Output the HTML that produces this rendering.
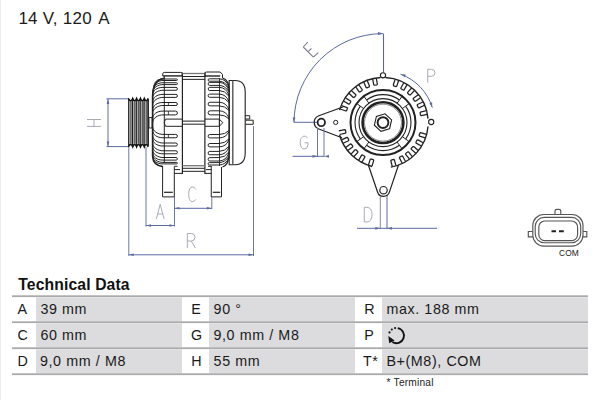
<!DOCTYPE html>
<html><head><meta charset="utf-8"><style>
html,body{margin:0;padding:0;background:#fff;}
body{width:600px;height:400px;overflow:hidden;position:relative;}
svg{position:absolute;left:0;top:0;}
text{font-family:"Liberation Sans",sans-serif;}
</style></head><body>
<svg width="600" height="400" viewBox="0 0 600 400">
<rect x="0" y="0" width="600" height="400" fill="#fff"/>
<rect x="0" y="0" width="1" height="400" fill="#ececec"/>
<text x="18.4" y="23.7" font-size="17" fill="#1a1a1a" letter-spacing="0.25">14 V, 120 <tspan dx="2.4">A</tspan></text>
<g stroke="#5b6aa0" stroke-width="1" fill="none"><line x1="106.5" y1="98.8" x2="129" y2="98.8"/><line x1="106.5" y1="146.6" x2="129" y2="146.6"/><line x1="108" y1="99" x2="108" y2="146.5"/></g>
<path d="M108,99 l-1.3,5 h2.6z M108,146.5 l-1.3,-5 h2.6z" fill="#5b6aa0"/>
<path d="M87,119.5 H101 M87,126.4 H101 M94,119.5 V126.4" stroke="#a0a2ae" stroke-width="0.9" fill="none"/>
<rect x="128.3" y="100" width="20.6" height="45" fill="#a8a8a8"/><line x1="128.90" y1="99" x2="128.90" y2="146" stroke="#1a1a1a" stroke-width="1.5"/><line x1="132.75" y1="99" x2="132.75" y2="146" stroke="#1a1a1a" stroke-width="1.5"/><line x1="136.60" y1="99" x2="136.60" y2="146" stroke="#1a1a1a" stroke-width="1.5"/><line x1="140.45" y1="99" x2="140.45" y2="146" stroke="#1a1a1a" stroke-width="1.5"/><line x1="144.30" y1="99" x2="144.30" y2="146" stroke="#1a1a1a" stroke-width="1.5"/><line x1="148.15" y1="99" x2="148.15" y2="146" stroke="#1a1a1a" stroke-width="1.5"/><line x1="130.82" y1="101.5" x2="130.82" y2="143.5" stroke="#555" stroke-width="1.0"/><line x1="129.62" y1="101" x2="129.62" y2="144" stroke="#d0d0d0" stroke-width="0.7"/><line x1="134.68" y1="101.5" x2="134.68" y2="143.5" stroke="#555" stroke-width="1.0"/><line x1="133.48" y1="101" x2="133.48" y2="144" stroke="#d0d0d0" stroke-width="0.7"/><line x1="138.52" y1="101.5" x2="138.52" y2="143.5" stroke="#555" stroke-width="1.0"/><line x1="137.32" y1="101" x2="137.32" y2="144" stroke="#d0d0d0" stroke-width="0.7"/><line x1="142.38" y1="101.5" x2="142.38" y2="143.5" stroke="#555" stroke-width="1.0"/><line x1="141.18" y1="101" x2="141.18" y2="144" stroke="#d0d0d0" stroke-width="0.7"/><line x1="146.23" y1="101.5" x2="146.23" y2="143.5" stroke="#555" stroke-width="1.0"/><line x1="145.03" y1="101" x2="145.03" y2="144" stroke="#d0d0d0" stroke-width="0.7"/><path d="M128.3,98.3 Q130.82,103.2 132.75,98.3 Q134.68,103.2 136.60,98.3 Q138.52,103.2 140.45,98.3 Q142.38,103.2 144.30,98.3 Q146.23,103.2 148.15,98.3" stroke="#111" stroke-width="1.4" fill="none"/><path d="M128.3,147 Q130.82,142.1 132.75,147 Q134.68,142.1 136.60,147 Q138.52,142.1 140.45,147 Q142.38,142.1 144.30,147 Q146.23,142.1 148.15,147" stroke="#111" stroke-width="1.4" fill="none"/>
<rect x="149" y="117.5" width="3" height="10.5" fill="#fff" stroke="#222" stroke-width="0.9"/>
<g><path d="M162.8,76 V73.8 Q162.8,72.4 164.3,72.4 H180.8 Q182.2,72.4 182.2,73.8 V76" stroke="#222" stroke-width="1" fill="none"/><line x1="162.8" y1="75.9" x2="182.2" y2="75.9" stroke="#222" stroke-width="1.4"/><line x1="164.3" y1="76" x2="164.3" y2="163" stroke="#222" stroke-width="1" fill="none"/><path d="M164,78.2 Q153,80 152.6,96 V156 Q153,165.5 162.8,166.6" stroke="#222" stroke-width="1.6" fill="none"/><path d="M154.02,87.00 C154.02,82.00 157.00,79.00 163,79.00 H176.65 A0.75,0.75 0 0 1 176.65,80.50 H163 C158.00,80.50 153.56,83.50 153.56,88.50" stroke="#222" stroke-width="1" fill="none"/><path d="M153.09,90.75 C153.09,85.75 157.00,82.75 163,82.75 H176.48 A0.92,0.92 0 0 1 176.48,84.60 H163 C158.00,84.60 152.82,87.60 152.82,92.60" stroke="#222" stroke-width="1" fill="none"/><path d="M152.62,95.40 C152.62,90.40 157.00,87.40 163,87.40 H175.98 A1.42,1.42 0 0 1 175.98,90.25 H163 C158.00,90.25 152.60,93.25 152.60,98.25" stroke="#222" stroke-width="1" fill="none"/><path d="M152.60,102.40 C152.60,97.40 157.00,94.40 163,94.40 H175.90 A1.50,1.50 0 0 1 175.90,97.40 H163 C158.00,97.40 152.60,100.40 152.60,105.40" stroke="#222" stroke-width="1" fill="none"/><path d="M152.60,110.50 C152.60,105.50 157.00,102.50 163,102.50 H175.90 A1.50,1.50 0 0 1 175.90,105.50 H163 C158.00,105.50 152.60,108.50 152.60,113.50" stroke="#222" stroke-width="1" fill="none"/><path d="M152.60,119.10 C152.60,114.10 157.00,111.10 163,111.10 H175.50 A1.90,1.90 0 0 1 175.50,114.90 H163 C158.00,114.90 152.60,117.90 152.60,122.90" stroke="#222" stroke-width="1" fill="none"/><path d="M152.60,126.40 C152.60,131.40 158.00,134.40 163,134.40 H175.73 A1.67,1.67 0 0 1 175.73,137.75 H163 C157.00,137.75 152.60,134.75 152.60,129.75" stroke="#222" stroke-width="1" fill="none"/><path d="M152.60,135.00 C152.60,140.00 158.00,143.00 163,143.00 H175.90 A1.50,1.50 0 0 1 175.90,146.00 H163 C157.00,146.00 152.60,143.00 152.60,138.00" stroke="#222" stroke-width="1" fill="none"/><path d="M152.60,142.80 C152.60,147.80 158.00,150.80 163,150.80 H175.90 A1.50,1.50 0 0 1 175.90,153.80 H163 C157.00,153.80 152.60,150.80 152.60,145.80" stroke="#222" stroke-width="1" fill="none"/><path d="M152.60,149.50 C152.60,154.50 158.00,157.50 163,157.50 H176.10 A1.30,1.30 0 0 1 176.10,160.10 H163 C157.00,160.10 152.60,157.10 152.60,152.10" stroke="#222" stroke-width="1" fill="none"/><path d="M152.60,154.40 C152.60,159.40 158.00,162.40 163,162.40 H176.65 A0.75,0.75 0 0 1 176.65,163.90 H163 C157.00,163.90 152.60,160.90 152.60,155.90" stroke="#222" stroke-width="1" fill="none"/><path d="M168.4,102.5 V105.5 M168.4,111.1 V114.9 M168.4,134.4 V137.75" stroke="#222" stroke-width="0.8"/><line x1="182.4" y1="72.4" x2="182.4" y2="173.9" stroke="#222" stroke-width="1.2"/><line x1="204.9" y1="72.4" x2="204.9" y2="173.9" stroke="#222" stroke-width="1.2"/><path d="M182.4,73.5 H204.9" stroke="#777" stroke-width="1.3"/><path d="M182.4,76.5 H204.9 M182.4,79.35 H204.9 M182.4,168.3 H204.9 M182.4,171.3 H204.9" stroke="#222" stroke-width="1" fill="none"/><path d="M182.4,165.7 H204.9" stroke="#777" stroke-width="1.3"/><path d="M182.4,119.1 H165.5 Q163,122.7 165.5,126.3 H182.4 M182.4,121.1 H204.9 M182.4,124.2 H204.9 M204.9,119.1 H219.3 L222.8,122.7 L219.3,126.3 H204.9 M219.3,119.1 V126.3" stroke="#222" stroke-width="1" fill="none"/><path d="M205,76.5 V73.5 Q205,72 206.5,72 H220.2 L222.5,74.5 V78" stroke="#222" stroke-width="1" fill="none"/><line x1="205" y1="76" x2="220.2" y2="76" stroke="#222" stroke-width="1.4"/><line x1="219.5" y1="78" x2="219.5" y2="166" stroke="#222" stroke-width="0.9"/><path d="M222.5,78 Q229.2,80 229.2,90 V152 Q229.2,165 222.5,167" stroke="#222" stroke-width="1.3" fill="none"/><path d="M229,87.20 Q226,78.80 219,78.80 H209.30 A1.20,1.20 0 0 0 209.30,81.20 H219 Q225,81.20 229,88.20" stroke="#222" stroke-width="1" fill="none"/><path d="M229,90.80 Q226,82.40 219,82.40 H209.60 A1.50,1.50 0 0 0 209.60,85.40 H219 Q225,85.40 229,91.80" stroke="#222" stroke-width="1" fill="none"/><path d="M229,95.30 Q226,87.35 219,87.35 H209.68 A1.58,1.58 0 0 0 209.68,90.50 H219 Q225,90.50 229,96.30" stroke="#222" stroke-width="1" fill="none"/><path d="M229,101.50 Q226,94.10 219,94.10 H209.70 A1.60,1.60 0 0 0 209.70,97.30 H219 Q225,97.30 229,102.50" stroke="#222" stroke-width="1" fill="none"/><path d="M229,109.45 Q226,102.25 219,102.25 H209.90 A1.80,1.80 0 0 0 209.90,105.85 H219 Q225,105.85 229,110.45" stroke="#222" stroke-width="1" fill="none"/><path d="M229,117.85 Q226,110.80 219,110.80 H210.12 A2.02,2.02 0 0 0 210.12,114.85 H219 Q225,114.85 229,118.85" stroke="#222" stroke-width="1" fill="none"/><path d="M229,130.50 Q225,134.50 219,134.50 H209.80 A1.70,1.70 0 0 0 209.80,137.90 H219 Q226,137.90 229,131.50" stroke="#222" stroke-width="1" fill="none"/><path d="M229,138.90 Q225,143.50 219,143.50 H209.80 A1.70,1.70 0 0 0 209.80,146.90 H219 Q226,146.90 229,139.90" stroke="#222" stroke-width="1" fill="none"/><path d="M229,146.20 Q225,151.40 219,151.40 H209.77 A1.67,1.67 0 0 0 209.77,154.75 H219 Q226,154.75 229,147.20" stroke="#222" stroke-width="1" fill="none"/><path d="M229,151.80 Q225,157.60 219,157.60 H209.80 A1.70,1.70 0 0 0 209.80,161.00 H219 Q226,161.00 229,152.80" stroke="#222" stroke-width="1" fill="none"/><path d="M229,156.20 Q225,162.60 219,162.60 H209.30 A1.20,1.20 0 0 0 209.30,165.00 H219 Q226,165.00 229,157.20" stroke="#222" stroke-width="1" fill="none"/><path d="M229.2,80.5 H235 Q245.2,80.5 245.2,92 V153 Q245.2,164.7 235,164.7 H229.2 Z" stroke="#222" stroke-width="1.1" fill="none"/><line x1="232.8" y1="80.5" x2="232.8" y2="164.7" stroke="#555" stroke-width="1.4"/><path d="M245.2,115.7 H249.7 V119 H245.2 M245.5,120.2 H253.2 V124.3 H245.2" stroke="#222" stroke-width="1" fill="none"/><path d="M162.6,166 V196.9 H174.3 V166.5" stroke="#222" stroke-width="1" fill="none"/><line x1="164" y1="192.3" x2="172.8" y2="192.3" stroke="#222" stroke-width="1.2"/><path d="M174.3,166.3 H177.5 M174.3,169.6 H180 M174.3,173.4 H182.4" stroke="#222" stroke-width="1" fill="none"/><path d="M211.25,166 V196.9 H221.5 V167" stroke="#222" stroke-width="1" fill="none"/><line x1="212.8" y1="192.3" x2="220.2" y2="192.3" stroke="#222" stroke-width="1.2"/><path d="M208,166.3 H211.25 M206,169.6 H211.25 M204.9,173.4 H211.25" stroke="#222" stroke-width="1" fill="none"/></g>
<path d="M128.8,147 V256 M146,147 V226.5 M174.5,197 V226.5 M211.8,197 V209 M253.5,126 V256" stroke="#6b78a2" stroke-width="1" fill="none"/>
<path d="M146,225.5 H174.5 M174.5,208.3 H211.8 M128.8,254.8 H253.5" stroke="#5b6aa0" stroke-width="1" fill="none"/>
<path d="M146.00,225.50 l5.00,-1.3 v2.6z M174.50,225.50 l-5.00,-1.3 v2.6z M174.50,208.30 l5.00,-1.3 v2.6z M211.80,208.30 l-5.00,-1.3 v2.6z M128.80,254.80 l5.00,-1.3 v2.6z M253.50,254.80 l-5.00,-1.3 v2.6z " fill="#5b6aa0"/>
<path d="M156.3,219 L160.2,204.3 L164.1,219 M157.6,214 H162.8" stroke="#a0a2ae" stroke-width="0.9" fill="none"/>
<path d="M195.8,189.2 Q194.2,187 192.3,187 Q188.7,187.4 188.7,194.3 Q188.7,201.4 192.3,201.6 Q194.4,201.6 195.8,199.4" stroke="#a0a2ae" stroke-width="0.9" fill="none"/>
<path d="M187.3,248 V233.5 H191.5 Q195,233.8 195,237.2 Q195,240.8 191.5,241 H187.3 M191.3,241 L195.3,248" stroke="#a0a2ae" stroke-width="0.9" fill="none"/>
<g><path d="M383.0,33.6 A89,89 0 0 0 294.00,122.6" stroke="#5b6aa0" stroke-width="1" fill="none"/><path d="M383.0,33.6 l-5,-1.5 v3z M294.00,122.6 l-1.4,-5 h2.8z" fill="#5b6aa0"/><path d="M383.5,33.6 V72.5" stroke="#5b6aa0" stroke-width="1.1"/><path d="M294,122.3 H318" stroke="#5b6aa0" stroke-width="1"/><path d="M303.25,47 L313.4,57.1 M303.25,47 L307.75,42.1 M308.5,51.1 L311.5,48.5 M313.4,57.1 L318.25,52.6" stroke="#7d7f8c" stroke-width="1.1" fill="none"/><path d="M400.61,74.21 A51.5,51.5 0 0 1 432.25,107.54" stroke="#5b6aa0" stroke-width="1" fill="none"/><path d="M427.7,69.3 V82.7 M427.7,69.3 H431.3 Q435,69.5 435,72.8 Q435,76.3 431.3,76.3 H427.7" stroke="#a0a2ae" stroke-width="0.9" fill="none"/><path d="M400.61,74.21 L405.79,74.60 L404.83,77.23z M432.25,107.54 L429.45,103.17 L432.13,102.35z " fill="#5b6aa0"/><path d="M380.63,77.46 A45.2,45.2 0 0 0 339.55,110.14" stroke="#222" stroke-width="1.4" fill="none"/><path d="M428.03,118.66 A45.2,45.2 0 0 0 385.37,77.46" stroke="#222" stroke-width="1.4" fill="none"/><path d="M390.85,167.11 A45.2,45.2 0 0 0 428.03,126.54" stroke="#222" stroke-width="1.4" fill="none"/><path d="M339.55,135.06 A45.2,45.2 0 0 0 372.07,166.46" stroke="#222" stroke-width="1.4" fill="none"/><path d="M372.62,78.88 L373.76,84.77 L374.46,85.24 L376.92,84.77 L377.39,84.06 L376.25,78.17" stroke="#222" stroke-width="1.25" fill="none" stroke-linejoin="round"/><path d="M363.75,81.99 L366.10,87.52 L366.88,87.83 L369.19,86.86 L369.50,86.07 L367.16,80.55" stroke="#222" stroke-width="1.25" fill="none" stroke-linejoin="round"/><path d="M355.73,86.88 L359.17,91.80 L360.01,91.94 L362.06,90.51 L362.20,89.67 L358.76,84.76" stroke="#222" stroke-width="1.25" fill="none" stroke-linejoin="round"/><path d="M348.90,93.33 L353.29,97.42 L354.14,97.39 L355.84,95.57 L355.81,94.72 L351.42,90.63" stroke="#222" stroke-width="1.25" fill="none" stroke-linejoin="round"/><path d="M343.56,101.06 L348.70,104.15 L349.53,103.95 L350.81,101.80 L350.61,100.98 L345.47,97.89" stroke="#222" stroke-width="1.25" fill="none" stroke-linejoin="round"/><path d="M340.18,108.98 L345.81,111.03 L346.58,110.68 L347.44,108.33 L347.08,107.56 L341.44,105.50" stroke="#222" stroke-width="1.25" fill="none" stroke-linejoin="round"/><path d="M395.12,79.33 L393.26,85.03 L393.65,85.79 L396.02,86.56 L396.78,86.18 L398.63,80.47" stroke="#222" stroke-width="1.25" fill="none" stroke-linejoin="round"/><path d="M403.85,82.79 L400.85,87.99 L401.07,88.81 L403.23,90.06 L404.05,89.84 L407.05,84.64" stroke="#222" stroke-width="1.25" fill="none" stroke-linejoin="round"/><path d="M411.67,87.99 L407.65,92.45 L407.70,93.30 L409.56,94.97 L410.40,94.93 L414.42,90.47" stroke="#222" stroke-width="1.25" fill="none" stroke-linejoin="round"/><path d="M418.24,94.71 L413.38,98.24 L413.25,99.08 L414.72,101.10 L415.56,101.23 L420.41,97.71" stroke="#222" stroke-width="1.25" fill="none" stroke-linejoin="round"/><path d="M422.91,101.95 L417.47,104.48 L417.18,105.28 L418.24,107.55 L419.04,107.84 L424.48,105.30" stroke="#222" stroke-width="1.25" fill="none" stroke-linejoin="round"/><path d="M426.33,110.70 L420.49,112.05 L420.04,112.77 L420.60,115.20 L421.32,115.65 L427.17,114.30" stroke="#222" stroke-width="1.25" fill="none" stroke-linejoin="round"/><path d="M426.36,134.41 L420.64,132.60 L419.89,132.99 L419.13,135.37 L419.52,136.13 L425.24,137.94" stroke="#222" stroke-width="1.25" fill="none" stroke-linejoin="round"/><path d="M423.17,142.75 L417.92,139.84 L417.10,140.07 L415.89,142.26 L416.13,143.08 L421.37,145.99" stroke="#222" stroke-width="1.25" fill="none" stroke-linejoin="round"/><path d="M418.25,150.48 L413.70,146.56 L412.85,146.63 L411.22,148.52 L411.29,149.37 L415.83,153.28" stroke="#222" stroke-width="1.25" fill="none" stroke-linejoin="round"/><path d="M412.28,156.69 L408.56,151.98 L407.72,151.88 L405.76,153.43 L405.66,154.27 L409.38,158.98" stroke="#222" stroke-width="1.25" fill="none" stroke-linejoin="round"/><path d="M405.51,161.49 L402.72,156.18 L401.91,155.93 L399.70,157.09 L399.44,157.90 L402.23,163.21" stroke="#222" stroke-width="1.25" fill="none" stroke-linejoin="round"/><path d="M395.88,165.65 L394.40,159.84 L393.67,159.40 L391.25,160.02 L390.82,160.75 L392.30,166.57" stroke="#222" stroke-width="1.25" fill="none" stroke-linejoin="round"/><path d="M339.67,134.50 L345.51,133.15 L345.96,132.43 L345.40,130.00 L344.68,129.55 L338.83,130.90" stroke="#222" stroke-width="1.25" fill="none" stroke-linejoin="round"/><path d="M343.09,143.25 L348.53,140.72 L348.82,139.92 L347.76,137.65 L346.96,137.36 L341.52,139.90" stroke="#222" stroke-width="1.25" fill="none" stroke-linejoin="round"/><path d="M347.76,150.49 L352.62,146.96 L352.75,146.12 L351.28,144.10 L350.44,143.97 L345.59,147.49" stroke="#222" stroke-width="1.25" fill="none" stroke-linejoin="round"/><path d="M353.73,156.70 L357.82,152.31 L357.79,151.46 L355.97,149.76 L355.12,149.79 L351.03,154.18" stroke="#222" stroke-width="1.25" fill="none" stroke-linejoin="round"/><path d="M361.81,162.23 L364.85,157.06 L364.64,156.23 L362.48,154.97 L361.66,155.18 L358.62,160.35" stroke="#222" stroke-width="1.25" fill="none" stroke-linejoin="round"/><path d="M372.02,166.18 L373.73,160.42 L373.32,159.68 L370.92,158.97 L370.18,159.37 L368.47,165.13" stroke="#222" stroke-width="1.25" fill="none" stroke-linejoin="round"/><circle cx="383" cy="75.3" r="2.6" fill="#fff" stroke="#222" stroke-width="1.1"/><circle cx="431.2" cy="122" r="2.6" fill="#fff" stroke="#222" stroke-width="1.1"/><path d="M343.5,106.7 L318.86,115.73 A7.1,7.1 0 0 0 318.81,129.05 L342,137.75" stroke="#222" stroke-width="1.2" fill="none"/><circle cx="321.3" cy="122.4" r="3.7" fill="none" stroke="#222" stroke-width="1.8"/><circle cx="335.7" cy="122.4" r="2.1" fill="none" stroke="#222" stroke-width="1"/><path d="M368.5,165.5 L377.63,192.21 A6.2,6.2 0 0 0 389.38,192.17 L398.5,165" stroke="#222" stroke-width="1.2" fill="none"/><circle cx="383.5" cy="190.2" r="3.7" fill="none" stroke="#222" stroke-width="1.2"/><circle cx="383.0" cy="122.6" r="32.5" stroke="#222" stroke-width="2" fill="none"/><path d="M399.46,99.95 A28.0,28.0 0 0 0 366.54,99.95" stroke="#222" stroke-width="1.1" fill="none"/><path d="M360.35,106.14 A28.0,28.0 0 0 0 360.35,139.06" stroke="#222" stroke-width="1.1" fill="none"/><path d="M366.54,145.25 A28.0,28.0 0 0 0 399.46,145.25" stroke="#222" stroke-width="1.1" fill="none"/><path d="M405.65,139.06 A28.0,28.0 0 0 0 405.65,106.14" stroke="#222" stroke-width="1.1" fill="none"/><circle cx="383.0" cy="122.6" r="24.0" stroke="#222" stroke-width="1.1" fill="none"/><circle cx="383.0" cy="122.6" r="20.4" stroke="#222" stroke-width="2.6" fill="none"/><circle cx="383.0" cy="122.6" r="18.5" stroke="#888" stroke-width="1.0" fill="none"/><line x1="402.42" y1="108.49" x2="409.29" y2="103.50" stroke="#222" stroke-width="1"/><line x1="397.11" y1="103.18" x2="402.10" y2="96.31" stroke="#222" stroke-width="1"/><line x1="368.89" y1="103.18" x2="363.90" y2="96.31" stroke="#222" stroke-width="1"/><line x1="363.58" y1="108.49" x2="356.71" y2="103.50" stroke="#222" stroke-width="1"/><line x1="363.58" y1="136.71" x2="356.71" y2="141.70" stroke="#222" stroke-width="1"/><line x1="368.89" y1="142.02" x2="363.90" y2="148.89" stroke="#222" stroke-width="1"/><line x1="397.11" y1="142.02" x2="402.10" y2="148.89" stroke="#222" stroke-width="1"/><line x1="402.42" y1="136.71" x2="409.29" y2="141.70" stroke="#222" stroke-width="1"/><polygon points="389.58,128.74 380.98,131.37 374.39,125.23 376.42,116.46 385.02,113.83 391.61,119.97" fill="none" stroke="#222" stroke-width="1.1"/><circle cx="383.0" cy="122.6" r="5.4" stroke="#222" stroke-width="1.9" fill="none"/><path d="M317.5,128 V157 M324,128 V157" stroke="#6b78a2" stroke-width="1" fill="none"/><path d="M292.5,156.3 H324" stroke="#5b6aa0" stroke-width="1"/><path d="M317.50,156.30 L312.50,157.70 L312.50,154.90z M324.00,156.30 L329.00,154.90 L329.00,157.70z " fill="#5b6aa0"/><path d="M307.8,138 Q305.5,135.5 303.2,136.2 Q300.2,137.8 300.2,142.3 Q300.4,148.8 304.2,149 Q307.8,148.8 308,145 V142.8 H304.5" stroke="#a0a2ae" stroke-width="0.9" fill="none"/><path d="M380.3,196 V229" stroke="#8a8a9a" stroke-width="1"/><path d="M387,196 V229" stroke="#5b6aa0" stroke-width="1"/><path d="M357,228.3 H437" stroke="#5b6aa0" stroke-width="1"/><path d="M380.30,228.30 L375.30,229.70 L375.30,226.90z M387.00,228.30 L392.00,226.90 L392.00,229.70z " fill="#5b6aa0"/><path d="M364.3,207.3 V222 H366.5 Q372,222 372,214.6 Q372,207.3 366.5,207.3 Z" stroke="#a0a2ae" stroke-width="0.9" fill="none"/></g>
<g><path d="M532.8,231.5 H528.3 V236.8 H532.8 M583,231.5 H586.8 V236.8 H583 M555,214.5 V211.2 Q555,209.3 557,209.3 H558.8 Q560.8,209.3 560.8,211.2 V214.5" stroke="#555" stroke-width="1.15" fill="none"/><rect x="532.8" y="214.5" width="50.2" height="31.6" rx="11" stroke="#555" stroke-width="1.15" fill="none"/><rect x="535.2" y="217.4" width="45.5" height="25.4" rx="9" stroke="#555" stroke-width="1.15" fill="none"/><rect x="538.8" y="221" width="38.8" height="19.6" rx="6" stroke="#555" stroke-width="1.15" fill="none"/><path d="M551.5,231.3 H556 M559,231.3 H563.8" stroke="#222" stroke-width="2"/></g>
<text x="559" y="256" font-size="8.4" fill="#222" letter-spacing="0.1">COM</text>
<!-- table -->
<text x="18.3" y="289.5" font-size="15.7" font-weight="bold" fill="#111" letter-spacing="0.13">Technical Data</text>
<g fill="#dcdcde">
<rect x="36" y="298" width="146" height="23.3"/><rect x="209" y="298" width="146" height="23.3"/><rect x="382" y="298" width="206" height="23.3"/>
<rect x="36" y="324" width="146" height="23.3"/><rect x="209" y="324" width="146" height="23.3"/><rect x="382" y="324" width="206" height="23.3"/>
<rect x="36" y="350" width="146" height="23.3"/><rect x="209" y="350" width="146" height="23.3"/><rect x="382" y="350" width="206" height="23.3"/>
</g>
<g fill="#ebebec">
<rect x="36" y="297" width="146" height="1"/><rect x="209" y="297" width="146" height="1"/><rect x="382" y="297" width="206" height="1"/>
<rect x="36" y="323" width="146" height="1"/><rect x="209" y="323" width="146" height="1"/><rect x="382" y="323" width="206" height="1"/>
<rect x="36" y="349" width="146" height="1"/><rect x="209" y="349" width="146" height="1"/><rect x="382" y="349" width="206" height="1"/>
</g>
<g fill="#aaaaaa">
<rect x="12" y="295.3" width="576" height="1.8"/>
<rect x="12" y="321.3" width="576" height="1.8"/>
<rect x="12" y="347.3" width="576" height="1.8"/>
<rect x="12" y="373.3" width="576" height="1.8"/>
</g>
<g font-size="14.3" fill="#1a1a1a" letter-spacing="0.6">
<text x="17.5" y="314.2">A</text><text x="40.4" y="314.2">39 mm</text>
<text x="191.2" y="314.2">E</text><text x="213.6" y="314.2">90 °</text>
<text x="364.2" y="314.2">R</text><text x="386.4" y="314.2">max. 188 mm</text>
<text x="17.6" y="340.2">C</text><text x="40.4" y="340.2">60 mm</text>
<text x="191" y="340.2">G</text><text x="213.4" y="340.2">9,0 mm / M8</text>
<text x="364.3" y="340.2">P</text>
<text x="17.6" y="366.4">D</text><text x="40" y="366.4">9,0 mm / M8</text>
<text x="191.2" y="366.4">H</text><text x="213.6" y="366.4">55 mm</text>
<text x="363" y="366.4">T*</text><text x="386.4" y="366.4">B+(M8), COM</text>
</g>
<text x="386.6" y="385.6" font-size="10.2" fill="#222" letter-spacing="0.2">* Terminal</text>
<!-- rotation icon -->
<path d="M397.72,328.12 A7.6,7.6 0 1 1 392.37,342.05" stroke="#111" stroke-width="1.9" fill="none"/>
<circle cx="395.08" cy="328.12" r="1.05" fill="#111"/><circle cx="391.83" cy="329.53" r="1.05" fill="#111"/><circle cx="389.51" cy="332.39" r="1.05" fill="#111"/>
<path d="M388.3,336 L389.2,343.2 L394.6,340.4 Z" fill="#111"/>
</svg>
</body></html>
